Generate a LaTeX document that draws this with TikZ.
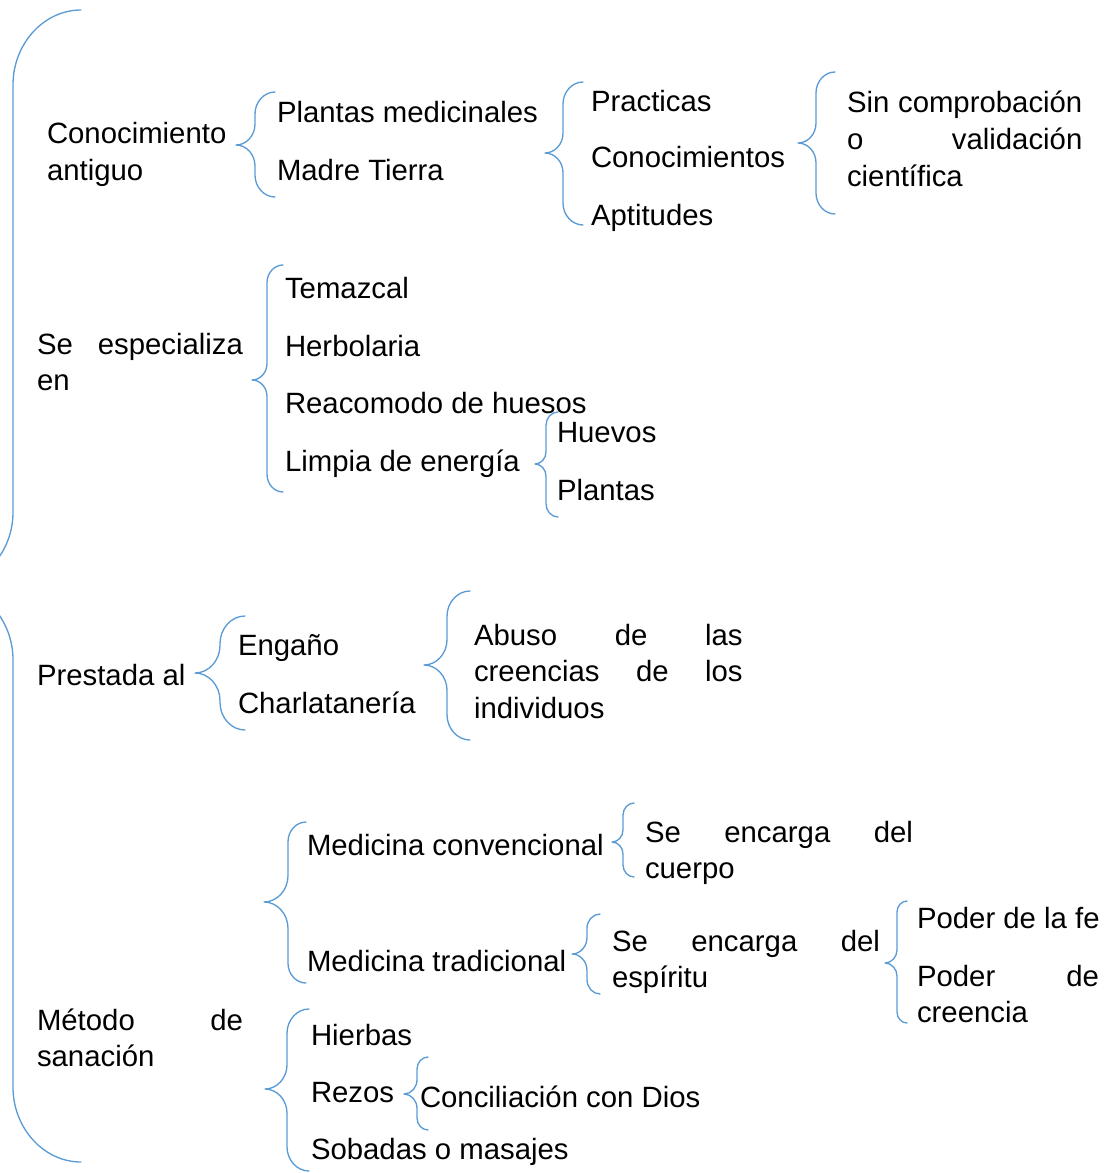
\documentclass[tikz,border=0pt]{standalone}
\usepackage{fontspec}
\setmainfont{Liberation Sans}
\definecolor{brc}{RGB}{91,155,213}
\newcommand\lbfont{\fontsize{22pt}{27.4pt}\selectfont\hyphenpenalty=10000 }
\newcommand\jl[2]{\leavevmode\hbox to #1{\spaceskip=0pt plus 1fil\relax #2}}
% #1 end x, #2 vertical x, #3 tip x, #4 top y, #5 tip y, #6 bottom y
\newcommand\curly[6]{%
  \draw[bracestyle] (#1,#4)
    .. controls ({#2+0.45*(#1-#2)},#4) and (#2,{#4+0.5*(#1-#2)}) .. (#2,{#4+1.1*(#1-#2)})
    -- (#2,{#5-1.1*(#2-#3)})
    .. controls (#2,{#5-0.5*(#2-#3)}) and ({#3+0.55*(#2-#3)},#5) .. (#3,#5)
    .. controls ({#3+0.55*(#2-#3)},#5) and (#2,{#5+0.5*(#2-#3)}) .. (#2,{#5+1.1*(#2-#3)})
    -- (#2,{#6-1.1*(#1-#2)})
    .. controls (#2,{#6-0.5*(#1-#2)}) and ({#2+0.45*(#1-#2)},#6) .. (#1,#6);}
\tikzset{
  bracestyle/.style={draw=brc, line width=1pt, line cap=round, line join=round},
  lbl/.style={anchor=base west, inner sep=0pt, outer sep=0pt, font=\lbfont},
  blk/.style={lbl, text width=#1, align=left},
}
\begin{document}
\begin{tikzpicture}[x=0.75pt, y=-0.75pt]
\useasboundingbox (0,0) rectangle (1119,1173);
\clip (0,0) rectangle (1119,1173);
% texts
\node[blk=150pt] (cono) at (47,144) {Conocimiento\\antiguo};
\node[lbl] (plmed) at (277,123) {Plantas medicinales};
\node[lbl] (madre) at (277,181) {Madre Tierra};
\node[lbl] (pract) at (591,112) {Practicas};
\node[lbl] (conoc) at (591,168) {Conocimientos};
\node[lbl] (aptit) at (591,226) {Aptitudes};
\node[blk=190pt] (sincomp) at (847,113) {\jl{176.5pt}{Sin comprobación}\\\jl{176.5pt}{o validación}\\científica};
\node[blk=170pt] (espec) at (37,354) {\jl{154.5pt}{Se especializa}\\en};
\node[lbl] (temaz) at (285,298) {Temazcal};
\node[lbl] (herbo) at (285,356) {Herbolaria};
\node[lbl] (reaco) at (285,413) {Reacomodo de huesos};
\node[lbl] (limpia) at (285,471) {Limpia de energía};
\node[lbl] (huevos) at (557,442) {Huevos};
\node[lbl] (plantas) at (557,500) {Plantas};
\node[lbl] (prest) at (37,685) {Prestada al};
\node[lbl] (engano) at (238,655) {Engaño};
\node[lbl] (charla) at (238,713) {Charlatanería};
\node[blk=210pt] (abuso) at (474,645) {\jl{201.5pt}{Abuso de las}\\\jl{201.5pt}{creencias de los}\\individuos};
\node[blk=170pt] (metodo) at (37,1030) {\jl{154.5pt}{Método de}\\sanación};
\node[lbl] (medconv) at (307,855) {Medicina convencional};
\node[lbl] (medtrad) at (307,971) {Medicina tradicional};
\node[blk=210pt] (cuerpo) at (645,842) {\jl{201pt}{Se encarga del}\\cuerpo};
\node[blk=210pt] (espiritu) at (612,951) {\jl{201pt}{Se encarga del}\\espíritu};
\node[lbl] (fe) at (917,928) {Poder de la fe};
\node[blk=150pt] (creencia) at (917,986) {\jl{136.5pt}{Poder de}\\creencia};
\node[lbl] (hierbas) at (311,1045) {Hierbas};
\node[lbl] (rezos) at (311,1102) {Rezos};
\node[lbl] (concil) at (420,1107) {Conciliación con Dios};
\node[lbl] (sobadas) at (311,1159) {Sobadas o masajes};
% braces
\curly{81}{13}{-54}{10}{586}{1162}
\curly{275}{255}{236}{92}{145}{197}
\curly{583}{563}{545}{82}{153}{225}
\curly{835}{816}{798}{72}{143}{214}
\curly{283}{267}{252}{265}{380}{492}
\curly{558}{546}{535}{412}{464}{517}
\curly{245}{220}{195}{616}{673}{730}
\curly{470}{447}{424}{591}{665}{740}
\curly{306}{288}{264}{822}{902}{983}
\curly{634}{623}{612}{803}{842}{877}
\curly{600}{587}{572}{914}{954}{994}
\curly{907}{897}{885}{901}{963}{1023}
\curly{309}{287}{265}{1009}{1089}{1171}
\curly{428}{417}{404}{1057}{1094}{1130}
\end{tikzpicture}
\end{document}
